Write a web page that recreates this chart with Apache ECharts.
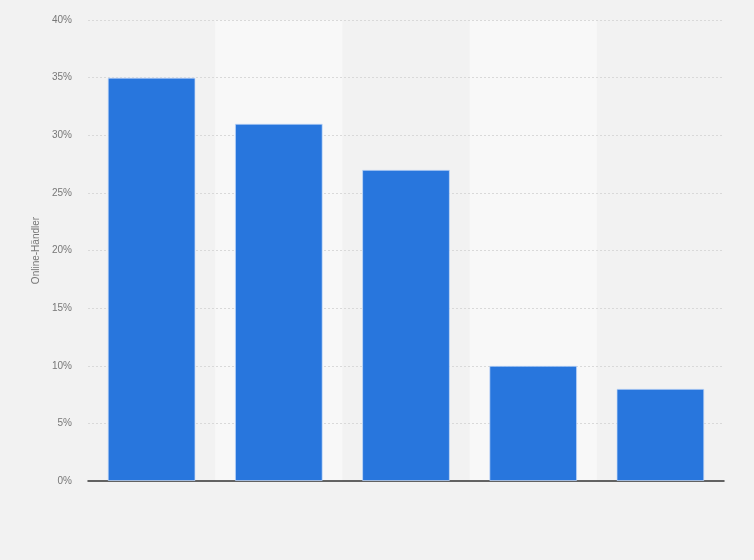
<!DOCTYPE html>
<html>
<head>
<meta charset="utf-8">
<script src="https://cdn.jsdelivr.net/npm/echarts@6/dist/echarts.min.js"></script>
<style>
html,body{margin:0;padding:0;background:#f2f2f2;}
#c{width:754px;height:560px;}
</style>
</head>
<body>
<div id="c"></div>
<script>
const categories = ['Kategorie 1', 'Kategorie 2', 'Kategorie 3', 'Kategorie 4', 'Kategorie 5'];
const values = [35, 31, 27, 10, 8];
const yTicks = [0, 5, 10, 15, 20, 25, 30, 35, 40];

const chart = echarts.init(document.getElementById('c'));
chart.setOption({
  backgroundColor: '#f2f2f2',
  animation: false,
  grid: { left: 88, right: 30, top: 20, bottom: 79 },
  xAxis: {
    type: 'category',
    data: categories,
    z: 0,
    axisLine: { lineStyle: { color: '#333', width: 1.5 } },
    axisTick: { show: false },
    axisLabel: { show: false },
    splitArea: { show: true, areaStyle: { color: ['rgba(0,0,0,0)', '#f8f8f8'] } }
  },
  yAxis: {
    type: 'value',
    z: 1,
    min: yTicks[0],
    max: yTicks[yTicks.length - 1],
    interval: 5,
    name: 'Online-Händler',
    nameLocation: 'middle',
    nameGap: 43,
    nameTextStyle: { color: '#777', fontSize: 10, fontFamily: 'Liberation Sans, Arial, sans-serif' },
    axisLine: { show: false },
    axisTick: { show: false },
    axisLabel: { formatter: '{value}%', color: '#777', fontSize: 10, margin: 16, fontFamily: 'Liberation Sans, Arial, sans-serif' },
    splitLine: { showMinLine: false, lineStyle: { color: '#d9d9d9', type: [2, 2], width: 1 } }
  },
  series: [{
    type: 'bar',
    data: values,
    barWidth: '69%',
    itemStyle: { color: '#2876dd', borderColor: 'rgba(200,220,250,0.7)', borderWidth: 1 }
  }]
});
</script>
</body>
</html>
